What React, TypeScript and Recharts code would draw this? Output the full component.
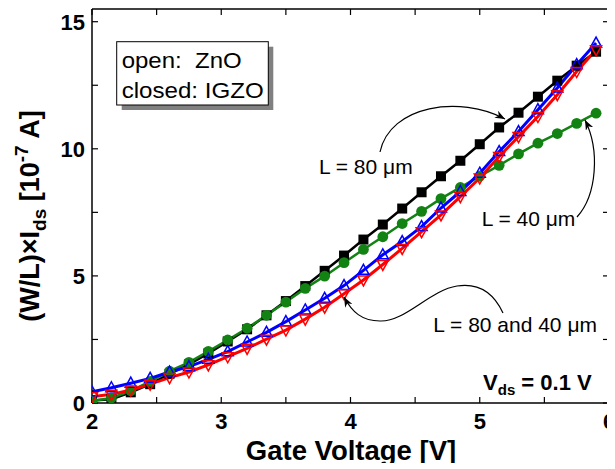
import React from "react";
import { LineChart, Line, XAxis, YAxis } from "recharts";

// gate voltage sweep (V)
const GATE_V = [
  2.0, 2.15, 2.3, 2.45, 2.6, 2.75, 2.9, 3.05, 3.2, 3.35, 3.5, 3.65, 3.8, 3.95,
  4.1, 4.25, 4.4, 4.55, 4.7, 4.85, 5.0, 5.15, 5.3, 5.45, 5.6, 5.75, 5.9,
];

// (W/L) x Ids in units of 1e-7 A
const IGZO_80 = [
  0.1, 0.15, 0.42, 0.74, 1.15, 1.52, 1.95, 2.42, 2.9, 3.45, 4.01, 4.6, 5.2, 5.8,
  6.43, 7.02, 7.65, 8.29, 8.92, 9.53, 10.18, 10.84, 11.42, 12.05, 12.68, 13.27, 13.82,
];
const IGZO_40 = [
  0.08, 0.2, 0.48, 0.85, 1.25, 1.6, 2.03, 2.48, 2.94, 3.45, 3.97, 4.51, 4.99, 5.52,
  6.04, 6.54, 7.06, 7.54, 8.04, 8.48, 8.92, 9.35, 9.8, 10.22, 10.6, 11.0, 11.4,
];
const ZNO_80 = [
  0.44, 0.6, 0.78, 0.97, 1.22, 1.43, 1.72, 2.02, 2.4, 2.78, 3.2, 3.66, 4.12, 4.62,
  5.22, 5.83, 6.35, 6.94, 7.67, 8.32, 9.04, 9.89, 10.68, 11.54, 12.39, 13.31, 14.16,
];
const ZNO_40 = [
  0.25, 0.34, 0.51, 0.74, 1.0, 1.22, 1.5, 1.82, 2.15, 2.51, 2.87, 3.3, 3.77, 4.3,
  4.84, 5.45, 6.08, 6.74, 7.4, 8.12, 8.85, 9.7, 10.48, 11.27, 12.13, 13.04, 13.9,
];

const X_TICKS = [2, 2.5, 3, 3.5, 4, 4.5, 5, 5.5, 6];
const Y_TICKS = [0, 2.5, 5, 7.5, 10, 12.5, 15];

const GREEN = "#128212";
const FONT = "'Liberation Sans', Arial, Helvetica, sans-serif";
const W = 607;
const H = 455;

const rows = GATE_V.map((v, i) => ({
  v,
  igzo80: IGZO_80[i],
  igzo40: IGZO_40[i],
  zno80: ZNO_80[i],
  zno40: ZNO_40[i],
}));

const tickStyle = { fontSize: 22, fontWeight: 700, fill: "#000", fontFamily: FONT };
const axisLine = { stroke: "#000", strokeWidth: 1.5 };
const tickLine = { stroke: "#000", strokeWidth: 1.2 };

const squareDot = (p: any) => (
  <rect key={p.index} x={p.cx - 5} y={p.cy - 5} width={10} height={10} fill="#000" />
);
const circleDot = (p: any) => (
  <circle key={p.index} cx={p.cx} cy={p.cy} r={5.4} fill={GREEN} />
);
const upDot = (p: any) => (
  <polygon
    key={p.index}
    points={`${p.cx},${p.cy - 6} ${p.cx + 5.5},${p.cy + 4} ${p.cx - 5.5},${p.cy + 4}`}
    fill="none"
    stroke="#0000ff"
    strokeWidth={1.5}
  />
);
const downDot = (p: any) => (
  <polygon
    key={p.index}
    points={`${p.cx - 5.5},${p.cy - 4} ${p.cx + 5.5},${p.cy - 4} ${p.cx},${p.cy + 6}`}
    fill="none"
    stroke="#ff0000"
    strokeWidth={1.5}
  />
);

const xLabel = (v: number) => (Number.isInteger(v) ? String(v) : "");
const yLabel = (v: number) => (v % 5 === 0 ? String(v) : "");
const blank = () => "";

function Overlay() {
  return (
    <svg
      width={W}
      height={H}
      style={{ position: "absolute", left: 0, top: 0, pointerEvents: "none", overflow: "visible" }}
      fontFamily={FONT}
    >
      <defs>
        <marker
          id="head"
          markerUnits="userSpaceOnUse"
          markerWidth={11}
          markerHeight={8}
          refX={10}
          refY={4}
          orient="auto"
        >
          <path d="M0,0 L10,4 L0,8 L3,4 z" fill="#000" />
        </marker>
      </defs>

      {/* material legend */}
      <rect x={113.7} y={38.7} width={151.6} height={63.3} fill="#808080" />
      <rect x={108.7} y={33.7} width={151.6} height={63.3} fill="#fff" stroke="#000" strokeWidth={1} />
      <text x={113.7} y={59.7} fontSize={22} textLength={120} lengthAdjust="spacingAndGlyphs" style={{ whiteSpace: "pre" }}>
        {"open:  ZnO"}
      </text>
      <text x={113.7} y={90.3} fontSize={22} textLength={142} lengthAdjust="spacingAndGlyphs">
        closed: IGZO
      </text>

      {/* annotations */}
      <path d="M372,144 C382,97 452,87 497,111" fill="none" stroke="#000" strokeWidth={1.2} markerEnd="url(#head)" />
      <text x={311} y={166} fontSize={21}>L = 80 μm</text>

      <path d="M569,209 C589,187 592,142 577,112" fill="none" stroke="#000" strokeWidth={1.2} markerEnd="url(#head)" />
      <text x={473.7} y={218} fontSize={21}>L = 40 μm</text>

      <path
        d="M495,305 C482,277 462,276 449,278 C422,282 397,314 372,313 C354,313 344,304 336,289"
        fill="none"
        stroke="#000"
        strokeWidth={1.2}
        markerEnd="url(#head)"
      />
      <text x={425.3} y={323.7} fontSize={21}>L = 80 and 40 μm</text>

      <text x={583.7} y={382} fontSize={22} fontWeight={700} textAnchor="end">
        <tspan>V</tspan>
        <tspan fontSize={15} dy={5}>ds</tspan>
        <tspan dy={-5}> = 0.1 V</tspan>
      </text>

      {/* axis titles */}
      <text x={343} y={451.5} fontSize={27.5} fontWeight={700} textAnchor="middle">
        Gate Voltage [V]
      </text>
      <text transform="translate(22,208) rotate(-90)" x={0} y={9} fontSize={27} fontWeight={700} textAnchor="middle">
        <tspan>(W/L)×I</tspan>
        <tspan fontSize={19} dy={7}>ds</tspan>
        <tspan dy={-7}> [10</tspan>
        <tspan fontSize={19} dy={-11}>-7</tspan>
        <tspan dy={11}> A]</tspan>
      </text>
    </svg>
  );
}

export default function App() {
  return (
    <div style={{ position: "relative", width: W, height: H }}>
      <LineChart width={W} height={H} data={rows} margin={{ top: 0, right: 2, bottom: 0, left: 0 }}>
        <XAxis
          xAxisId="b"
          dataKey="v"
          type="number"
          domain={[2, 6]}
          allowDataOverflow
          ticks={X_TICKS}
          interval={0}
          tickFormatter={xLabel}
          tickSize={-6}
          tickMargin={16}
          height={60}
          axisLine={axisLine}
          tickLine={tickLine}
          tick={tickStyle}
        />
        <XAxis
          xAxisId="t"
          orientation="top"
          dataKey="v"
          type="number"
          domain={[2, 6]}
          allowDataOverflow
          ticks={X_TICKS}
          interval={0}
          tickFormatter={blank}
          tickSize={-6}
          height={1}
          axisLine={axisLine}
          tickLine={tickLine}
        />
        <YAxis
          yAxisId="l"
          type="number"
          domain={[0, 15.5]}
          allowDataOverflow
          ticks={Y_TICKS}
          interval={0}
          tickFormatter={yLabel}
          tickSize={-6}
          tickMargin={13}
          width={84}
          axisLine={axisLine}
          tickLine={tickLine}
          tick={tickStyle}
        />
        <YAxis
          yAxisId="r"
          orientation="right"
          type="number"
          domain={[0, 15.5]}
          allowDataOverflow
          ticks={Y_TICKS}
          interval={0}
          tickFormatter={blank}
          tickSize={-6}
          width={4}
          axisLine={axisLine}
          tickLine={tickLine}
        />
        <Line xAxisId="b" yAxisId="l" dataKey="igzo80" stroke="#000" strokeWidth={2.5} dot={squareDot} isAnimationActive={false} />
        <Line xAxisId="b" yAxisId="l" dataKey="igzo40" stroke={GREEN} strokeWidth={2.5} dot={circleDot} isAnimationActive={false} />
        <Line xAxisId="b" yAxisId="l" dataKey="zno80" stroke="#0000ff" strokeWidth={3} dot={upDot} isAnimationActive={false} />
        <Line xAxisId="b" yAxisId="l" dataKey="zno40" stroke="#ff0000" strokeWidth={3} dot={downDot} isAnimationActive={false} />
      </LineChart>
      <Overlay />
    </div>
  );
}
